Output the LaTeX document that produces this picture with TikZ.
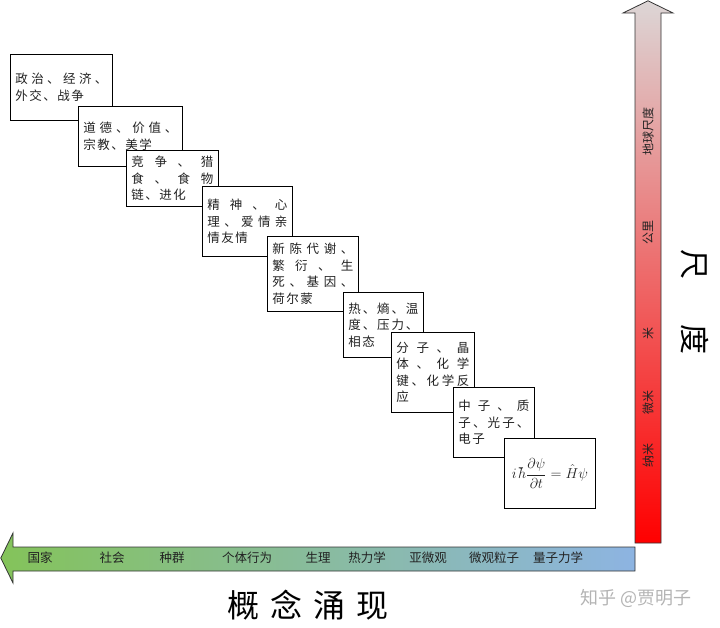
\documentclass[tikz,border=0pt]{standalone}
\usepackage{fontspec}
\setmainfont{Noto Sans CJK SC}
\newfontfamily\boxfont[LetterSpace=12]{Noto Sans CJK SC}
\newfontfamily\cjk{Noto Sans CJK SC}
\newcommand\jl[1]{\makebox[\linewidth][s]{\cjk\spaceskip=0pt plus 1fil #1}}
\definecolor{txt}{HTML}{222222}
\definecolor{arrgreen}{HTML}{84C35A}
\definecolor{arrblue}{HTML}{8DB4E2}
\definecolor{arrgrey}{HTML}{DCD6D6}
\definecolor{wm}{HTML}{B4B4B4}
\tikzset{
  conceptbox/.style={draw=black, line width=0.8pt, fill=white, anchor=north west,
    inner xsep=5pt, inner ysep=0pt, align=left, text=txt,
    font=\boxfont\fontsize{12.5}{16.5}\selectfont},
  hlabel/.style={text=txt, font=\cjk\fontsize{12.5}{14}\selectfont, inner sep=0pt},
  vlabel/.style={text=txt, font=\cjk\fontsize{12}{14}\selectfont, inner sep=0pt, rotate=90},
  arrowshape/.style={draw=black!80, line width=0.8pt, line join=miter},
}
\begin{document}
\begin{tikzpicture}[x=1pt,y=-1pt]
\useasboundingbox (0,0) rectangle (720,627);

% vertical scale arrow
\shade[arrowshape, top color=arrgrey, bottom color=red]
  (635,543) -- (635,13) -- (623,13) -- (648,0.8) -- (673,13) -- (661,13) -- (661,543) -- cycle;
% horizontal concept arrow
\shade[arrowshape, left color=arrgreen, right color=arrblue]
  (635,547) -- (13,547) -- (13,533) -- (0.8,558) -- (13,583) -- (13,571) -- (635,571) -- cycle;

% concept boxes
\node[conceptbox, text width=92pt, minimum height=66pt] (b1) at (10,54)
  {\jl{政 治 、 经 济 、}\\外交、战争};
\node[conceptbox, text width=94pt, minimum height=60pt] (b2) at (78,106)
  {\jl{道 德 、 价 值 、}\\宗教、美学};
\node[conceptbox, text width=82pt, minimum height=56pt] (b3) at (126,150)
  {\jl{竞 争 、 猎}\\\jl{食 、 食 物}\\链、进化};
\node[conceptbox, text width=80pt, minimum height=70pt] (b4) at (202,186)
  {\jl{精 神 、 心}\\\jl{理 、 爱 情 亲}\\情友情};
\node[conceptbox, text width=81pt, minimum height=75pt] (b5) at (267,236)
  {\jl{新 陈 代 谢 、}\\\jl{繁 衍 、 生}\\\jl{死 、 基 因 、}\\荷尔蒙};
\node[conceptbox, text width=70pt, minimum height=65pt] (b6) at (343,292)
  {\jl{热 、 熵 、 温}\\\jl{度 、 压 力 、}\\相态};
\node[conceptbox, text width=73pt, minimum height=80pt] (b7) at (391,332)
  {\jl{分 子 、 晶}\\\jl{体 、 化 学}\\\jl{键 、 化 学 反}\\应};
\node[conceptbox, text width=71pt, minimum height=70pt] (b8) at (453,387)
  {\jl{中 子 、 质}\\\jl{子 、 光 子 、}\\电子};
\node[conceptbox, text width=81pt, minimum height=70pt, align=center,
      font=\fontsize{14.5}{17}\selectfont] (b9) at (504,438)
  {\mbox{$\displaystyle i\hbar\frac{\partial\psi}{\partial t}=\hat{H}\psi$}};

% horizontal labels
\node[hlabel] (h1) at (40,558) {国家};
\node[hlabel] (h2) at (112,558) {社会};
\node[hlabel] (h3) at (172,558) {种群};
\node[hlabel] (h4) at (247,558) {个体行为};
\node[hlabel] (h5) at (318,558) {生理};
\node[hlabel] (h6) at (367,558) {热力学};
\node[hlabel] (h7) at (428,558) {亚微观};
\node[hlabel] (h8) at (494,558) {微观粒子};
\node[hlabel] (h9) at (558,558) {量子力学};

% vertical labels
\node[vlabel] (v1) at (648,131) {地球尺度};
\node[vlabel] (v2) at (648,232) {公里};
\node[vlabel] (v3) at (648,333) {米};
\node[vlabel] (v4) at (648,402) {微米};
\node[vlabel] (v5) at (648,455) {纳米};

% titles
\node[inner sep=0pt, font=\cjk\fontsize{32}{34}\selectfont, text=black] (tconcept) at (308,605)
  {概\hspace{11pt}念\hspace{11pt}涌\hspace{11pt}现};
\node[inner sep=0pt, rotate=-90, font=\cjk\fontsize{30}{32}\selectfont, text=black] (tscale) at (695,302)
  {尺\hspace{46pt}度};
\node[inner sep=0pt, font=\cjk\fontsize{18}{20}\selectfont, text=wm] (wmark) at (636,598)
  {知乎 @贾明子};
\end{tikzpicture}
\end{document}
